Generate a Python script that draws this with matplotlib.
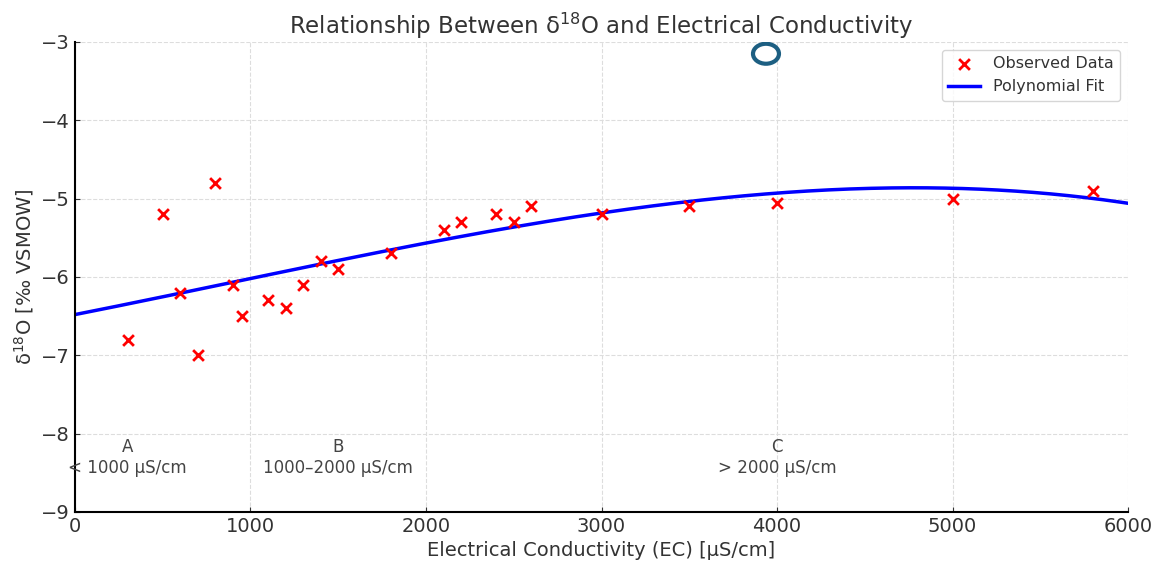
import numpy as np
import matplotlib.pyplot as plt
from matplotlib.patches import Ellipse

ec = [300, 500, 600, 700, 800, 900, 950, 1100, 1200, 1300, 1400, 1500, 1800,
      2100, 2200, 2400, 2500, 2600, 3000, 3500, 4000, 5000, 5800]
d18o = [-6.8, -5.2, -6.2, -7.0, -4.8, -6.1, -6.5, -6.3, -6.4, -6.1, -5.8, -5.9, -5.7,
        -5.4, -5.3, -5.2, -5.3, -5.1, -5.2, -5.1, -5.05, -5.0, -4.9]

zone_x = [300, 1500, 4000]
zone_labels = ['A\n< 1000 µS/cm', 'B\n1000–2000 µS/cm', 'C\n> 2000 µS/cm']

# polynomial fit through the observed points
coef = np.polyfit(ec, d18o, 3)
x_fit = np.linspace(0, 6000, 300)
y_fit = np.polyval(coef, x_fit)

fig = plt.figure(figsize=(11.57, 5.63), dpi=100)
ax = fig.add_axes([0.0648, 0.0906, 0.9102, 0.8348])

ax.scatter(ec, d18o, marker='x', color='red', s=60, linewidths=2, label='Observed Data', zorder=3)
ax.plot(x_fit, y_fit, color='blue', lw=2.5, label='Polynomial Fit', zorder=2)

for xx, lab in zip(zone_x, zone_labels):
    ax.text(xx, -8.3, lab, ha='center', va='center', fontsize=12, color='#444444')

# hollow marker near the top
ax.add_patch(Ellipse((3937, -3.15), 148, 0.255, fill=False, edgecolor='#1d5f82', lw=3, zorder=4))

ax.set_xlim(0, 6000)
ax.set_ylim(-9, -3)
ax.set_xticks([0, 1000, 2000, 3000, 4000, 5000, 6000])
ax.set_yticks([-9, -8, -7, -6, -5, -4, -3])
ax.set_yticklabels(['−9', '−8', '−7', '−6', '−5', '−4', '−3'])
ax.tick_params(direction='in', labelsize=14, colors='#333333')
ax.spines['top'].set_visible(False)
ax.spines['right'].set_visible(False)
ax.spines['left'].set_linewidth(1.5)
ax.spines['bottom'].set_linewidth(1.5)
ax.grid(True, linestyle='--', color='#dddddd', lw=0.8)

ax.set_title('Relationship Between δ$^{18}$O and Electrical Conductivity', fontsize=16.5, color='#333333')
ax.set_xlabel('Electrical Conductivity (EC) [µS/cm]', fontsize=14, color='#333333')
ax.set_ylabel('δ$^{18}$O [‰ VSMOW]', fontsize=14, color='#333333')
ax.legend(loc='upper right', fontsize=11.5, labelcolor='#333333')

fig.savefig('out.png', dpi=100)
